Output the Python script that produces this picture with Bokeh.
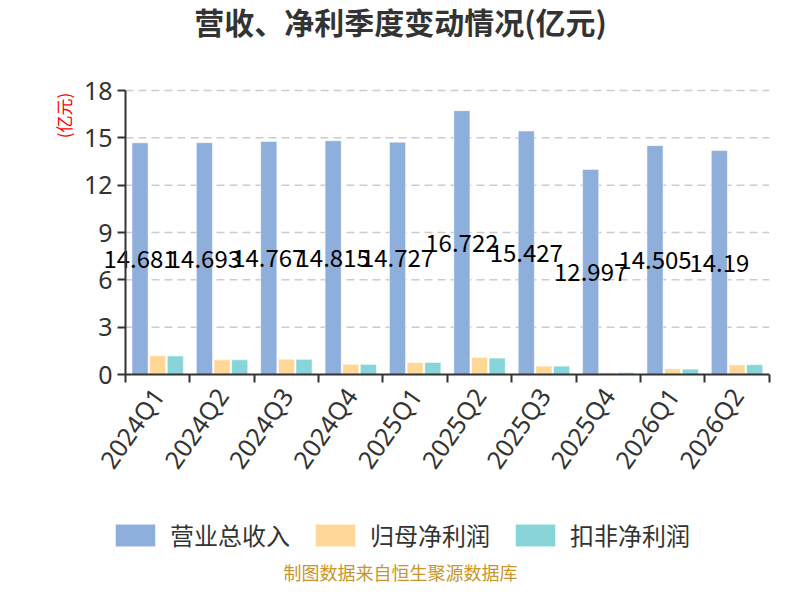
import math
from bokeh.plotting import figure
from bokeh.models import (FixedTicker, Label, Legend, LegendItem, ColumnDataSource,
                          Range1d, LinearAxis)
from bokeh.core.properties import value
from bokeh.embed import file_html
from bokeh.resources import INLINE

categories = ["2024Q1", "2024Q2", "2024Q3", "2024Q4", "2025Q1",
              "2025Q2", "2025Q3", "2025Q4", "2026Q1", "2026Q2"]
revenue = [14.681, 14.693, 14.767, 14.815, 14.727, 16.722, 15.427, 12.997, 14.505, 14.19]
net_profit = [1.19, 0.93, 0.97, 0.65, 0.76, 1.08, 0.53, 0.13, 0.36, 0.61]
deducted_profit = [1.17, 0.93, 0.96, 0.64, 0.76, 1.04, 0.53, 0.12, 0.34, 0.62]
y_ticks = [0, 3, 6, 9, 12, 15, 18]
series_names = ["营业总收入", "归母净利润", "扣非净利润"]
colors = ["#8eaedb", "#ffd898", "#87d5d8"]
title_text = "营收、净利季度变动情况(亿元)"
unit_text = "(亿元)"
footer_text = "制图数据来自恒生聚源数据库"

CJK = "Noto Sans CJK SC"
NUM = "Noto Sans"
W, H = 784, 584

n = len(categories)
centers = [i + 0.5 for i in range(n)]
offset = 0.274
bar_w = 0.25

# plot area geometry (pixels on the canvas)
px_left, px_right = 125.0, 768.7   # x = 0 .. n
px_bottom, px_top = 374.0, 90.0    # y = 0 .. 18
y_max = y_ticks[-1]
xs = (px_right - px_left) / n
ys = (px_bottom - px_top) / y_max

x_range = Range1d(-px_left / xs, (W - px_left) / xs)
y_range = Range1d(-(H - px_bottom) / ys, px_bottom / ys)

p = figure(width=W, height=H, output_backend="svg", toolbar_location=None,
           x_range=x_range, y_range=y_range,
           x_axis_location=None, y_axis_location=None,
           min_border_left=0, min_border_right=0, min_border_top=0, min_border_bottom=0)
p.title.visible = False
p.outline_line_color = None
p.background_fill_color = "white"
p.border_fill_color = "white"
p.xgrid.visible = False
p.ygrid.visible = False

# dashed horizontal grid lines between the axis extents
grid_src = ColumnDataSource(dict(y=y_ticks[1:], x0=[0] * (len(y_ticks) - 1),
                                 x1=[n] * (len(y_ticks) - 1)))
p.segment(x0="x0", x1="x1", y0="y", y1="y", source=grid_src,
          line_color="#cccccc", line_width=1.5, line_dash="8 5")

src = ColumnDataSource(dict(
    x_rev=[c - offset for c in centers],
    x_net=centers,
    x_ded=[c + offset for c in centers],
    revenue=revenue, net=net_profit, ded=deducted_profit,
    half=[v / 2 for v in revenue],
    lbl=[str(v) for v in revenue],
))

r1 = p.vbar(x="x_rev", top="revenue", width=bar_w, source=src, fill_color=colors[0],
            line_color="white", line_alpha=0.5, line_width=1)
r2 = p.vbar(x="x_net", top="net", width=bar_w, source=src, fill_color=colors[1],
            line_color="white", line_alpha=0.5, line_width=1)
r3 = p.vbar(x="x_ded", top="ded", width=bar_w, source=src, fill_color=colors[2],
            line_color="white", line_alpha=0.5, line_width=1)

p.text(x="x_rev", y="half", text="lbl", source=src, text_align="center",
       text_baseline="middle", text_font=value(CJK), text_font_size="24px",
       text_color="#000000")

# axes
yaxis = LinearAxis(fixed_location=0, bounds=(0, y_max), ticker=FixedTicker(ticks=y_ticks))
yaxis.axis_line_color = "#333333"
yaxis.axis_line_width = 2
yaxis.major_tick_line_color = "#333333"
yaxis.major_tick_line_width = 2
yaxis.major_tick_out = 8
yaxis.major_tick_in = 0
yaxis.minor_tick_line_color = None
yaxis.major_label_text_font = NUM
yaxis.major_label_text_font_size = "25px"
yaxis.major_label_text_color = "#333333"
yaxis.major_label_standoff = 5
p.add_layout(yaxis, "left")

xaxis = LinearAxis(fixed_location=0, bounds=(0, n),
                   ticker=FixedTicker(ticks=centers, minor_ticks=list(range(n + 1))))
xaxis.major_label_overrides = {c: cat for c, cat in zip(centers, categories)}
xaxis.axis_line_color = "#333333"
xaxis.axis_line_width = 2
xaxis.major_tick_out = 0
xaxis.major_tick_in = 0
xaxis.minor_tick_line_color = "#333333"
xaxis.minor_tick_line_width = 2
xaxis.minor_tick_out = 8
xaxis.minor_tick_in = 0
xaxis.major_label_orientation = 0.96
xaxis.major_label_text_font = NUM
xaxis.major_label_text_font_size = "25px"
xaxis.major_label_text_color = "#333333"
xaxis.major_label_standoff = 8
p.add_layout(xaxis, "below")

# texts (screen units: from the canvas' bottom-left corner)
p.add_layout(Label(x=400, y=H - 20, x_units="screen", y_units="screen", text=title_text,
                   text_font=CJK, text_font_size="30px", text_font_style="bold",
                   text_color="#333333", text_align="center", text_baseline="middle"))
p.add_layout(Label(x=63, y=H - 115, x_units="screen", y_units="screen", text=unit_text,
                   angle=math.pi / 2, text_font=CJK, text_font_size="17px",
                   text_color="#ff0000", text_align="center", text_baseline="middle"))
p.add_layout(Label(x=400, y=H - 571, x_units="screen", y_units="screen", text=footer_text,
                   text_font=CJK, text_font_size="18px", text_color="#c9952b",
                   text_align="center", text_baseline="middle"))

legend = Legend(items=[LegendItem(label=series_names[0], renderers=[r1]),
                       LegendItem(label=series_names[1], renderers=[r2]),
                       LegendItem(label=series_names[2], renderers=[r3])],
                location=(110, H - 552), orientation="horizontal",
                glyph_width=50, glyph_height=28, label_standoff=10, spacing=20,
                padding=0, margin=0, border_line_color=None, background_fill_alpha=0,
                label_text_font=CJK, label_text_font_size="24px", label_text_color="#333333")
p.add_layout(legend)

open("out.html", "w").write(file_html(p, INLINE))
